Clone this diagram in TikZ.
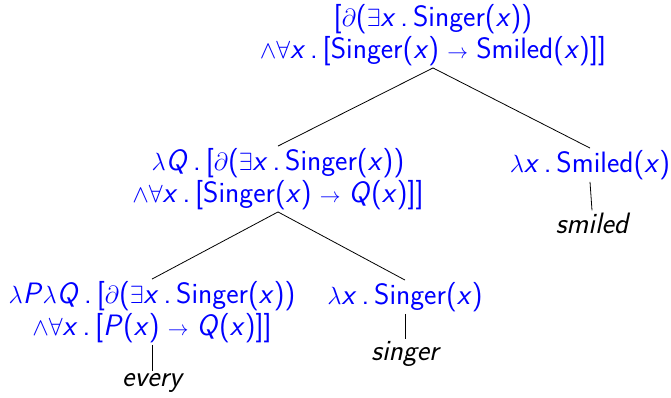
\documentclass[tikz,border=0pt]{standalone}
\usepackage{fontspec}
\newcommand{\vv}[1]{\textit{#1}}
\newcommand{\lam}{$\lambda$}
\newcommand{\arr}{\;{\fontsize{22}{22}\selectfont$\rightarrow$}\;}
\tikzset{
  sem/.style={text=blue, align=center, font=\sffamily\fontsize{29.5}{32}\selectfont, inner sep=2pt},
  word/.style={text=black, font=\sffamily\itshape\fontsize{29.5}{32}\selectfont, inner sep=2pt},
  edge/.style={draw=black, line width=0.8pt}
}
\begin{document}
\begin{tikzpicture}[x=1pt,y=-1pt]
\useasboundingbox (0,0) rectangle (671,398);
\node[sem] (root) at (433,35) {[$\partial$($\exists$\vv{x}\,.\,Singer(\vv{x}))\\ $\wedge\forall$\vv{x}\,.\,[Singer(\vv{x})\arr Smiled(\vv{x})]]};
\node[sem] (L) at (278,179) {\lam\vv{Q}\,.\,[$\partial$($\exists$\vv{x}\,.\,Singer(\vv{x}))\\ $\wedge\forall$\vv{x}\,.\,[Singer(\vv{x})\arr\vv{Q}(\vv{x})]]};
\node[sem] (R) at (590,165) {\lam\vv{x}\,.\,Smiled(\vv{x})};
\node[word] (smiled) at (592,223) {smiled};
\node[sem] (LL) at (152,312) {\lam\vv{P}\lam\vv{Q}\,.\,[$\partial$($\exists$\vv{x}\,.\,Singer(\vv{x}))\\ $\wedge\forall$\vv{x}\,.\,[\vv{P}(\vv{x})\arr\vv{Q}(\vv{x})]]};
\node[sem] (LR) at (405,297) {\lam\vv{x}\,.\,Singer(\vv{x})};
\node[word] (every) at (152,383) {every};
\node[word] (singer) at (405,354) {singer};
\draw[edge] (root.south) -- (L.north);
\draw[edge] (root.south) -- (R.north);
\draw[edge] (R.south) -- (smiled.north);
\draw[edge] (L.south) -- (LL.north);
\draw[edge] (L.south) -- (LR.north);
\draw[edge] (LL.south) -- (every.north);
\draw[edge] (LR.south) -- (singer.north);
\end{tikzpicture}
\end{document}
